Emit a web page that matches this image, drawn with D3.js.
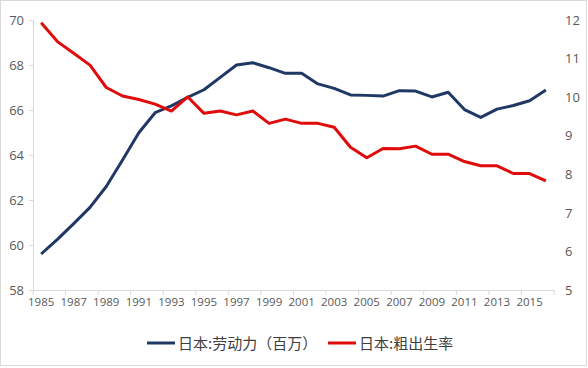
<!DOCTYPE html>
<html><head><meta charset="utf-8">
<script src="https://cdn.jsdelivr.net/npm/d3@7"></script>
<style>body{margin:0;background:#fff}svg{display:block}text{font-family:"Noto Sans CJK SC","Open Sans",sans-serif}</style>
</head><body><svg id="c" width="588" height="368"></svg>
<script>
const years = d3.range(1985, 2017);
const laborForce = [59.6,60.25,60.95,61.67,62.6,63.78,64.99,65.88,66.18,66.56,66.9,67.45,68.0,68.1,67.88,67.63,67.63,67.16,66.96,66.67,66.65,66.62,66.86,66.84,66.58,66.79,66.02,65.67,66.04,66.2,66.41,66.89];
const birthRate = [11.93,11.44,11.14,10.83,10.25,10.03,9.94,9.82,9.64,10.01,9.58,9.64,9.54,9.64,9.32,9.43,9.32,9.32,9.22,8.7,8.43,8.67,8.66,8.73,8.52,8.52,8.33,8.22,8.22,8.02,8.02,7.83];
const leftTicks = [58,60,62,64,66,68,70];
const rightTicks = [5,6,7,8,9,10,11,12];
const seriesNames = ["日本:劳动力（百万）","日本:粗出生率"];
const colors = ["#203864","#e00b0b"];

const svg = d3.select("#c");
const L=33, R=554, T=20, B=290;
svg.append("rect").attr("x",0.5).attr("y",0.5).attr("width",586).attr("height",365)
  .attr("fill","#fff").attr("stroke","#d9d9d9");

const x = d3.scaleBand().domain(years).range([L,R]);
const yL = d3.scaleLinear().domain([58,70]).range([B,T]);
const yR = d3.scaleLinear().domain([5,12]).range([B,T]);

const tc = "#595959";
const gl = svg.append("g").attr("transform",`translate(${L},0)`)
  .call(d3.axisLeft(yL).tickValues(leftTicks).tickFormat(d3.format("d")).tickSize(4).tickPadding(5));
gl.select(".domain").attr("stroke","#d9d9d9");
gl.selectAll(".tick line").attr("stroke","#d9d9d9");
gl.selectAll("text").attr("fill",tc).attr("font-size",13).style("font-family","'Open Sans',sans-serif");
const gr = svg.append("g").attr("transform",`translate(${R},0)`)
  .call(d3.axisRight(yR).tickValues(rightTicks).tickFormat(d3.format("d")).tickSize(0).tickPadding(11));
gr.select(".domain").remove();
gr.selectAll("text").attr("fill",tc).attr("font-size",13).style("font-family","'Open Sans',sans-serif");
const gb = svg.append("g").attr("transform",`translate(0,${B})`)
  .call(d3.axisBottom(x).tickValues(years.filter((d,i)=>i%2===0)).tickSize(0).tickPadding(8));
gb.select(".domain").attr("stroke","#d9d9d9");
gb.selectAll("text").attr("fill",tc).attr("font-size",11.5).style("font-family","'Open Sans',sans-serif");
svg.append("g").selectAll("line").data(years.filter((d,i)=>i%2===0).concat(["end"]))
  .join("line")
  .attr("x1",d=>d==="end"?R:x(d)).attr("x2",d=>d==="end"?R:x(d))
  .attr("y1",B).attr("y2",B+5).attr("stroke","#d9d9d9");

const cx = d=>x(d)+x.bandwidth()/2;
const lineL = d3.line().x((d,i)=>cx(years[i])).y(d=>yL(d));
const lineR = d3.line().x((d,i)=>cx(years[i])).y(d=>yR(d));
svg.append("path").datum(laborForce).attr("d",lineL).attr("fill","none")
  .attr("stroke",colors[0]).attr("stroke-width",3).attr("stroke-linejoin","round");
svg.append("path").datum(birthRate).attr("d",lineR).attr("fill","none")
  .attr("stroke",colors[1]).attr("stroke-width",3).attr("stroke-linejoin","round");

const lg = svg.append("g");
const lx = [147, 328];
seriesNames.forEach((n,i)=>{
  lg.append("line").attr("x1",lx[i]).attr("x2",lx[i]+28).attr("y1",343).attr("y2",343)
    .attr("stroke",colors[i]).attr("stroke-width",3);
  lg.append("text").attr("x",lx[i]+31).attr("y",348.5).attr("font-size",15).attr("fill","#404040").text(n);
});
</script></body></html>
